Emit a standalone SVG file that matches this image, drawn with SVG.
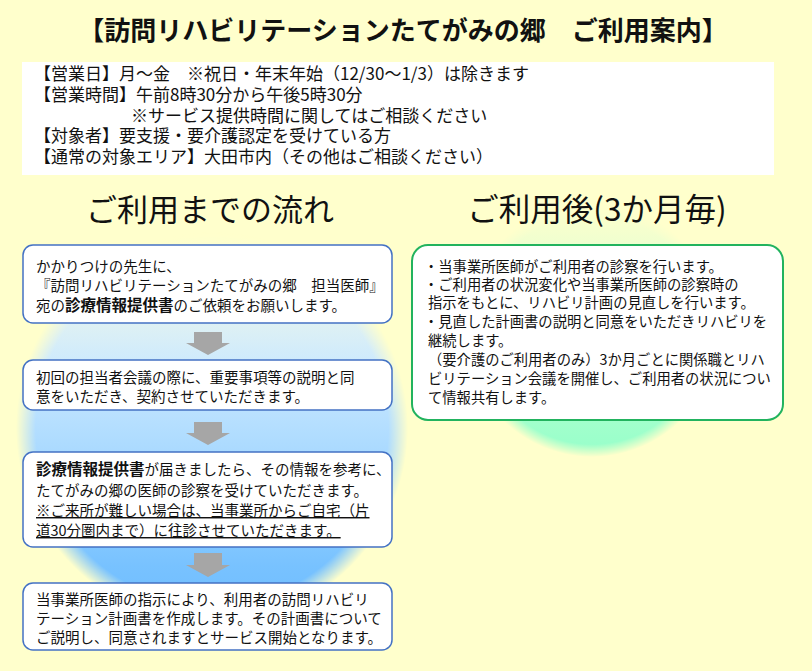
<svg xmlns="http://www.w3.org/2000/svg" width="812" height="671" viewBox="0 0 812 671">
<defs>
<linearGradient id="gBlue" x1="0" y1="0" x2="0" y2="1">
<stop offset="0" stop-color="#FFFFCC"/>
<stop offset="0.2" stop-color="#E4F3F0"/>
<stop offset="0.35" stop-color="#CBE9FF"/>
<stop offset="0.6" stop-color="#A4D7FF"/>
<stop offset="0.85" stop-color="#78C2FF"/>
<stop offset="1" stop-color="#6CBCFF"/>
</linearGradient>
<linearGradient id="gGreen" x1="0" y1="0" x2="0" y2="1">
<stop offset="0" stop-color="#FFFFCC"/>
<stop offset="0.3" stop-color="#E2FFD2"/>
<stop offset="0.65" stop-color="#B4FFCF"/>
<stop offset="1" stop-color="#96FFCA"/>
</linearGradient>
<radialGradient id="edge" cx="0.5" cy="0.5" r="0.5">
<stop offset="0" stop-color="#fff"/>
<stop offset="0.9" stop-color="#fff"/>
<stop offset="1" stop-color="#000"/>
</radialGradient>
<mask id="mBlue" maskContentUnits="userSpaceOnUse">
<circle cx="212" cy="428" r="196" fill="url(#edge)"/>
</mask>
<mask id="mGreen" maskContentUnits="userSpaceOnUse">
<circle cx="592" cy="330" r="127" fill="url(#edge)"/>
</mask>
<style>
text{font-family:"Noto Sans CJK JP","Noto Sans",sans-serif;fill:#111;}
.title{font-size:26px;font-weight:bold;}
.info{font-size:17px;}
.head{font-size:31px;}
.t{font-size:14.5px;}
.r{font-size:14.3px;}
.b{font-weight:bold;font-size:15.5px;}
.u{text-decoration:underline;}
.lbox{fill:#fff;stroke:#4472C4;stroke-width:1.5;}
.rbox{fill:#fff;stroke:#22B35E;stroke-width:2;}
.arrow{fill:#A6A6A6;}
</style>
</defs>
<rect x="0" y="0" width="812" height="671" fill="#FFFFCC"/>
<rect x="16" y="232" width="392" height="392" fill="url(#gBlue)" mask="url(#mBlue)"/>
<rect x="465" y="203" width="254" height="254" fill="url(#gGreen)" mask="url(#mGreen)"/>

<g id="title">
<text class="title" x="403" y="40" text-anchor="middle">【訪問リハビリテーションたてがみの郷　ご利用案内】</text>
</g>

<g id="info">
<rect x="22" y="62" width="752" height="113" fill="#fff"/>
<text class="info" x="34" y="80">【営業日】月～金　※祝日・年末年始（12/30～1/3）は除きます</text>
<text class="info" x="34" y="101">【営業時間】午前8時30分から午後5時30分</text>
<text class="info" x="131" y="122">※サービス提供時間に関してはご相談ください</text>
<text class="info" x="34" y="142">【対象者】要支援・要介護認定を受けている方</text>
<text class="info" x="34" y="163">【通常の対象エリア】大田市内（その他はご相談ください）</text>
</g>

<g id="heading-left">
<text class="head" x="210" y="221" text-anchor="middle">ご利用までの流れ</text>
</g>
<g id="heading-right">
<text class="head" x="597" y="221" text-anchor="middle" style="font-size:31.5px">ご利用後(3か月毎)</text>
</g>

<g id="connectors">
<polygon class="arrow" points="194,332 222,332 222,343 230,343 208,355 186,343 194,343"/>
<polygon class="arrow" points="194,422 222,422 222,433 230,433 208,445 186,433 194,433"/>
<polygon class="arrow" points="194,553 222,553 222,565 230,565 208,577 186,565 194,565"/>
</g>

<g id="step1">
<rect class="lbox" x="23" y="245" width="369" height="78" rx="10"/>
<text class="t" x="36" y="272">かかりつけの先生に、</text>
<text class="t" x="36" y="291">『訪問リハビリテーションたてがみの郷　担当医師』</text>
<text class="t" x="36" y="311">宛の<tspan class="b">診療情報提供書</tspan>のご依頼をお願いします。</text>
</g>

<g id="step2">
<rect class="lbox" x="23" y="360" width="369" height="50" rx="10"/>
<text class="t" x="36" y="383">初回の担当者会議の際に、重要事項等の説明と同</text>
<text class="t" x="36" y="402">意をいただき、契約させていただきます。</text>
</g>

<g id="step3">
<rect class="lbox" x="23" y="452" width="369" height="95" rx="10"/>
<text class="t" x="36" y="475"><tspan class="b">診療情報提供書</tspan>が届きましたら、その情報を参考に、</text>
<text class="t" x="36" y="496">たてがみの郷の医師の診察を受けていただきます。</text>
<text class="t u" x="36" y="516">※ご来所が難しい場合は、当事業所からご自宅（片</text>
<text class="t u" x="36" y="536">道30分圏内まで）に往診させていただきます。</text>
</g>

<g id="step4">
<rect class="lbox" x="23" y="583" width="369" height="67" rx="10"/>
<text class="t" x="36" y="605">当事業所医師の指示により、利用者の訪問リハビリ</text>
<text class="t" x="36" y="624">テーション計画書を作成します。その計画書について</text>
<text class="t" x="36" y="643">ご説明し、同意されますとサービス開始となります。</text>
</g>

<g id="after">
<rect class="rbox" x="412" y="245" width="371" height="175" rx="16"/>
<text class="r" x="424" y="272">・当事業所医師がご利用者の診察を行います。</text>
<text class="r" x="424" y="290">・ご利用者の状況変化や当事業所医師の診察時の</text>
<text class="r" x="428" y="308">指示をもとに、リハビリ計画の見直しを行います。</text>
<text class="r" x="424" y="327">・見直した計画書の説明と同意をいただきリハビリを</text>
<text class="r" x="428" y="346">継続します。</text>
<text class="r" x="428" y="365">（要介護のご利用者のみ）3か月ごとに関係職とリハ</text>
<text class="r" x="428" y="384">ビリテーション会議を開催し、ご利用者の状況につい</text>
<text class="r" x="428" y="403">て情報共有します。</text>
</g>
</svg>
